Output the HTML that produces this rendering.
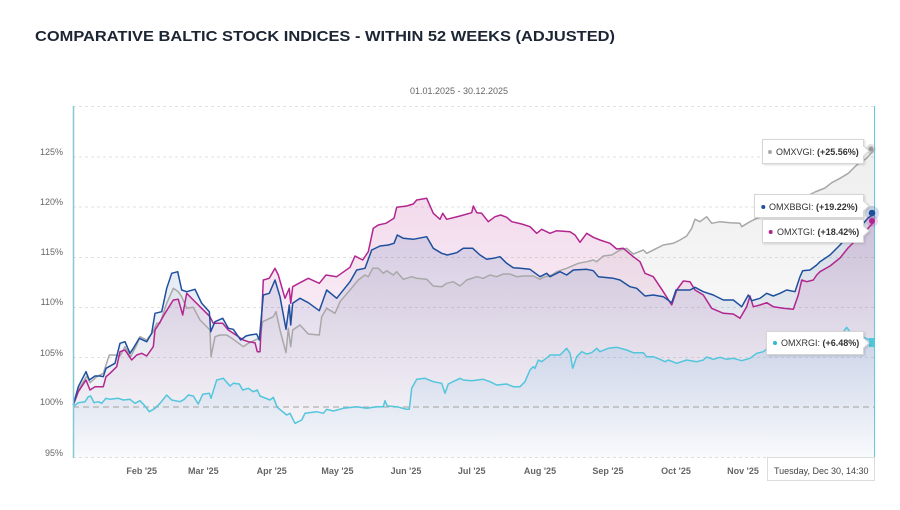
<!DOCTYPE html>
<html><head><meta charset="utf-8"><style>
html,body{margin:0;padding:0;background:#fff;}
svg{display:block;font-family:"Liberation Sans",sans-serif;}
</style></head><body>
<svg width="900" height="510" viewBox="0 0 900 510" xmlns="http://www.w3.org/2000/svg">
<defs>
<linearGradient id="gG" gradientUnits="userSpaceOnUse" x1="0" y1="106" x2="0" y2="458"><stop offset="0" stop-color="#aaaaaa" stop-opacity="0.22"/><stop offset="1" stop-color="#aaaaaa" stop-opacity="0.01"/></linearGradient>
<linearGradient id="gM" gradientUnits="userSpaceOnUse" x1="0" y1="106" x2="0" y2="458"><stop offset="0" stop-color="#b5298f" stop-opacity="0.23"/><stop offset="1" stop-color="#b5298f" stop-opacity="0.0"/></linearGradient>
<linearGradient id="gB" gradientUnits="userSpaceOnUse" x1="0" y1="106" x2="0" y2="458"><stop offset="0" stop-color="#1c4f9c" stop-opacity="0.2"/><stop offset="1" stop-color="#1c4f9c" stop-opacity="0.01"/></linearGradient>
<linearGradient id="gC" gradientUnits="userSpaceOnUse" x1="0" y1="320" x2="0" y2="458"><stop offset="0" stop-color="#50a8e0" stop-opacity="0.17"/><stop offset="1" stop-color="#50a8e0" stop-opacity="0.02"/></linearGradient>
<filter id="sh" x="-10%" y="-20%" width="130%" height="160%"><feDropShadow dx="1" dy="1" stdDeviation="1" flood-color="#000" flood-opacity="0.15"/></filter>
</defs>

<text x="35" y="41" font-size="15" font-weight="bold" fill="#1c2533" textLength="580" lengthAdjust="spacingAndGlyphs">COMPARATIVE BALTIC STOCK INDICES - WITHIN 52 WEEKS (ADJUSTED)</text>
<text x="459" y="94" font-size="9" fill="#666" text-anchor="middle">01.01.2025 - 30.12.2025</text>

<!-- grid -->
<g stroke="#e2e2e2" stroke-width="1" stroke-dasharray="3,3">
<line x1="73" y1="106.5" x2="874" y2="106.5"/>
<line x1="73" y1="157" x2="874" y2="157"/>
<line x1="73" y1="207" x2="874" y2="207"/>
<line x1="73" y1="257.5" x2="874" y2="257.5"/>
<line x1="73" y1="307.5" x2="874" y2="307.5"/>
<line x1="73" y1="357.5" x2="874" y2="357.5"/>
<line x1="73" y1="457.5" x2="874" y2="457.5"/>
</g>

<g font-size="9" fill="#666" text-anchor="end">
<text x="63" y="155">125%</text>
<text x="63" y="205">120%</text>
<text x="63" y="255">115%</text>
<text x="63" y="305">110%</text>
<text x="63" y="356">105%</text>
<text x="63" y="405">100%</text>
<text x="63" y="456">95%</text>
</g>

<g font-size="9" font-weight="bold" fill="#666" text-anchor="middle">
<text x="141.7" y="474">Feb '25</text>
<text x="203.3" y="474">Mar '25</text>
<text x="271.7" y="474">Apr '25</text>
<text x="337.5" y="474">May '25</text>
<text x="406" y="474">Jun '25</text>
<text x="471.7" y="474">Jul '25</text>
<text x="540" y="474">Aug '25</text>
<text x="608" y="474">Sep '25</text>
<text x="676" y="474">Oct '25</text>
<text x="743" y="474">Nov '25</text>
</g>

<!-- fills -->
<polygon fill="url(#gG)" points="73.3,405 78.3,390 86.7,376 90,382.7 96.7,376.7 103.3,373.3 109.3,355 115,355 120,356 125,346.7 130.7,356.7 136.7,345 140,336.7 146.7,340 153.3,331.7 156.7,323.3 160,323.3 166.7,303.3 173.3,288.3 178.3,291.7 181.7,296.7 186.7,308.3 193.3,307.3 200,320 210,330 211,356.7 215,336.7 220,335 226.7,335 233.3,339.3 243.3,346.7 248.3,343.3 256.7,339.3 260,338.3 262.7,321.7 273.3,316.7 276,311.7 280,330 286,352.7 288.3,328.3 290.7,346.7 292.7,330 300,325 308.3,334 319.3,335 321.7,316.7 326.7,308.3 335,313.3 340,301.7 350,290 358.3,280 365,275 368.3,276.7 372.7,268.3 378.3,268.3 383.3,273.3 386.7,270.7 393.3,275 396.7,271.7 403.3,279.3 411.7,276.7 416.7,278.3 426.7,279.3 433.3,286 441.7,286.7 446.7,283.3 453.3,281.7 460,286 466.7,280 476.7,276.7 483.3,278.3 490,275 496.7,276.7 503.3,274 510,274 516.7,276.7 523.3,276 533.3,276 540,279.3 543.3,277.3 551.7,275 556.7,271.7 566.7,268.3 578.3,263.3 586.7,261.7 593.3,260 596.7,261.7 603.3,256 611.7,255 620,250 626.7,248.3 633.3,254 643.3,250 646.7,253.3 656.7,248.3 663.3,245 673.3,243.3 680,240 686.7,236 691.7,228.3 695,219.3 700,221.7 706.7,216.7 711.7,223.3 720,221.7 730,222.7 740,223.3 741.7,226.7 750,221.7 756.7,218.3 765,216 775,212 785,206 795,200 805,197 815,192 825,188 831.7,182.7 840,178.3 848.3,173.3 856.7,165 866.7,158.3 874,150 874,458 73.3,458"/>
<polygon fill="url(#gM)" points="73.3,405 78.3,391.7 86,380 90,390 95,386.7 103.3,386.7 106,376.7 110,373.3 116.7,366.7 120,351.7 125,350 131.7,360 136.7,355 141.7,353.3 146.7,356 153.3,346.7 155,330 159.3,323.3 165,313.3 173.3,300 178.3,299.3 182.7,315 186.7,293.3 193.3,300 200,306.7 210,316.7 213.3,323.3 222.7,323.3 228.3,330 233.3,333.3 243.3,340 248.3,341.7 255,342.7 257.3,351.7 260,351.7 263.3,280 269.3,278.3 275,268.3 278.3,275 285,298.3 289.3,288.3 290.7,303.3 292.7,286.7 300,282.7 308.3,278.3 319.3,283.3 326,275 336.7,276.7 350,267.3 355,256 362.7,260 368.3,251.7 373.3,228.3 378.3,225 386,223.3 394,218.3 396.7,207.3 406.7,206 413.3,204 416.7,200 426.7,198.3 433.3,213.3 440,219.3 442.7,213.3 446.7,219.3 460,216 471.7,212.7 473.3,206 476.7,212.7 481.7,213.3 488.3,221.7 495,216.7 500.7,215 506.7,217.3 511.7,221.7 521.7,224 530,226.7 536.7,233.3 541.7,229.3 550,233.3 556.7,230.7 570,231.7 575,235 580,242.3 586.7,233.3 593.3,237.3 600,240 610,243.3 616.7,249 623.3,248.3 633.3,256.7 640,261.7 645,273.3 653.3,276.7 663.3,291.7 671.7,305 676.7,290 683.3,281 690,281.7 695,290 703.3,295 711.7,308.3 723.3,313.3 733.3,314 740,318.3 746.7,306.7 750,296 753.3,306.7 760,305 766.7,302.7 773.3,306.7 783.3,308.3 793.3,309.3 798.3,295 801.7,280 806.7,281.7 813.3,280 816.7,275 820,271.7 830,266 840,258 848,248 856,240 864,233 870,226 874,222 874,458 73.3,458"/>
<polygon fill="url(#gB)" points="73.3,405 78.3,386.7 86,371.7 89.3,380 95,376 100,376 103.3,376.7 106,368.3 115,363.3 120,343.3 125,341.7 130,353.3 133.3,348.3 139.3,338.3 146.7,341.7 151.7,333.3 155,313.3 161.7,311.7 166.7,288.3 171.7,273.3 177.7,271.7 181.7,290 186.7,291.7 195,289.3 201.7,303.3 209.3,311.7 210.7,331.7 215,321.7 222.7,318.3 228.3,328.3 233.3,329.3 240.7,340 246,336 250,335 256.7,334 259.3,340 263.3,295 269.3,293.3 275,280 280,296.7 286,329.3 289.3,305 290.7,325 292.7,303.3 300,298.3 308.3,302.7 319.3,310.7 326.7,290 336.7,298.3 350,281.7 356.7,270 365,268.3 371.7,250 380,246 388.3,245 394,243.3 397.3,235 403.3,238.3 413.3,239.3 426.7,236.7 433.3,248.3 441.7,253.3 447.3,255 456.7,252.7 463.3,248.3 472.7,248.3 480,255 486.7,259.3 493.3,258.3 500,256.7 506.7,263.3 513.3,267.7 520,268.3 530,269.3 540,276.7 546.7,273.3 550,276.7 560,271.7 566.7,275 573.3,270 586.7,269.3 593.3,270.7 598.3,276.7 613.3,278.3 620,280 630,286.7 636.7,288.3 645,296 653.3,295 663.3,296.7 671.7,302.7 676,290 690,290 695,287.3 703.3,291.7 713.3,295 723.3,300 733.3,300 741.7,306.7 748.3,295 751.7,300.7 760,298.3 766.7,293.3 773.3,296 780,293.3 786.7,290 795,291.7 800,276.7 802.7,270.7 810,270 816.7,265 820,261.7 830,255 840,245 848,236 856,228 862,225 868,218 874,214 874,458 73.3,458"/>
<polygon fill="url(#gC)" points="73.3,406.7 78.3,402.7 85,401.7 88.3,396.7 90.7,396 94,402.7 98.3,401.7 101.7,403.3 106,398.3 110,399.3 118.3,398.3 123.3,400 130,399.3 135,403.3 140,400.7 145,406 149.3,411.7 155,408.3 160,403.3 166.7,395 171.7,400 180,401.7 184.3,399.3 188.3,395 193.3,396 198.3,404 202.7,394.3 209.3,393.3 211,398.3 216.7,380 223.3,378.3 230,386 233.3,383.3 239.3,384 242.7,390 248.3,388.3 253.3,391.7 257.3,390 260,396 270,400 273.3,397.3 277.3,407.3 286.7,415 290,413.3 295,423.3 301.7,420 305,413.3 316.7,411.7 323.3,413.3 326.7,409.3 333.3,411 343.3,408.3 356.7,406.7 366.7,408.3 376.7,406.7 383.3,406.7 385,400.7 387.3,406 396.7,406.7 406.7,409.3 409.3,409.3 411.7,388.3 416.7,379.3 425,378.3 433.3,381.7 441.7,383.3 445,393.3 448.3,384 460,378.3 463.3,380 471.7,380.7 483.3,379.3 490,381.7 496.7,385 506.7,384 513.3,386.7 520,386.7 525,381.7 530,370 533.3,366.7 535,368.3 538.3,360 541.7,361.7 548.3,356.7 550,355 560,355 566.7,348.3 570,353.3 572.7,368.3 576.7,356.7 581.7,351.7 586.7,354 591.7,352.7 596.7,348.3 600,351.7 608.3,348.3 616.7,347.3 626.7,350 633.3,352.7 643.3,352.7 646.7,356.7 653.3,356.7 660,359.3 665,361.7 668.3,360 676.7,363.3 686.7,360 696.7,361.7 703.3,360 706.7,357 713.3,359.3 720,357.3 726.7,359.3 733.3,358.3 741.7,360.7 750,358.3 756.7,353.3 763.3,351.7 766.7,349 780,347 795,345 810,341 825,336 835,334 843.3,331.7 846.7,327.3 850,331.7 856.7,333.3 863.3,337.3 870,340 874,342 874,458 73.3,458"/>

<!-- 100% plot line -->
<line x1="73" y1="407" x2="874" y2="407" stroke="#b0b0b0" stroke-width="1.2" stroke-dasharray="6,4"/>

<!-- lines -->
<g fill="none" stroke-width="1.5" stroke-linejoin="round">
<polyline stroke="#a8a8a8" points="73.3,405 78.3,390 86.7,376 90,382.7 96.7,376.7 103.3,373.3 109.3,355 115,355 120,356 125,346.7 130.7,356.7 136.7,345 140,336.7 146.7,340 153.3,331.7 156.7,323.3 160,323.3 166.7,303.3 173.3,288.3 178.3,291.7 181.7,296.7 186.7,308.3 193.3,307.3 200,320 210,330 211,356.7 215,336.7 220,335 226.7,335 233.3,339.3 243.3,346.7 248.3,343.3 256.7,339.3 260,338.3 262.7,321.7 273.3,316.7 276,311.7 280,330 286,352.7 288.3,328.3 290.7,346.7 292.7,330 300,325 308.3,334 319.3,335 321.7,316.7 326.7,308.3 335,313.3 340,301.7 350,290 358.3,280 365,275 368.3,276.7 372.7,268.3 378.3,268.3 383.3,273.3 386.7,270.7 393.3,275 396.7,271.7 403.3,279.3 411.7,276.7 416.7,278.3 426.7,279.3 433.3,286 441.7,286.7 446.7,283.3 453.3,281.7 460,286 466.7,280 476.7,276.7 483.3,278.3 490,275 496.7,276.7 503.3,274 510,274 516.7,276.7 523.3,276 533.3,276 540,279.3 543.3,277.3 551.7,275 556.7,271.7 566.7,268.3 578.3,263.3 586.7,261.7 593.3,260 596.7,261.7 603.3,256 611.7,255 620,250 626.7,248.3 633.3,254 643.3,250 646.7,253.3 656.7,248.3 663.3,245 673.3,243.3 680,240 686.7,236 691.7,228.3 695,219.3 700,221.7 706.7,216.7 711.7,223.3 720,221.7 730,222.7 740,223.3 741.7,226.7 750,221.7 756.7,218.3 765,216 775,212 785,206 795,200 805,197 815,192 825,188 831.7,182.7 840,178.3 848.3,173.3 856.7,165 866.7,158.3 874,150"/>
<polyline stroke="#b2268f" points="73.3,405 78.3,391.7 86,380 90,390 95,386.7 103.3,386.7 106,376.7 110,373.3 116.7,366.7 120,351.7 125,350 131.7,360 136.7,355 141.7,353.3 146.7,356 153.3,346.7 155,330 159.3,323.3 165,313.3 173.3,300 178.3,299.3 182.7,315 186.7,293.3 193.3,300 200,306.7 210,316.7 213.3,323.3 222.7,323.3 228.3,330 233.3,333.3 243.3,340 248.3,341.7 255,342.7 257.3,351.7 260,351.7 263.3,280 269.3,278.3 275,268.3 278.3,275 285,298.3 289.3,288.3 290.7,303.3 292.7,286.7 300,282.7 308.3,278.3 319.3,283.3 326,275 336.7,276.7 350,267.3 355,256 362.7,260 368.3,251.7 373.3,228.3 378.3,225 386,223.3 394,218.3 396.7,207.3 406.7,206 413.3,204 416.7,200 426.7,198.3 433.3,213.3 440,219.3 442.7,213.3 446.7,219.3 460,216 471.7,212.7 473.3,206 476.7,212.7 481.7,213.3 488.3,221.7 495,216.7 500.7,215 506.7,217.3 511.7,221.7 521.7,224 530,226.7 536.7,233.3 541.7,229.3 550,233.3 556.7,230.7 570,231.7 575,235 580,242.3 586.7,233.3 593.3,237.3 600,240 610,243.3 616.7,249 623.3,248.3 633.3,256.7 640,261.7 645,273.3 653.3,276.7 663.3,291.7 671.7,305 676.7,290 683.3,281 690,281.7 695,290 703.3,295 711.7,308.3 723.3,313.3 733.3,314 740,318.3 746.7,306.7 750,296 753.3,306.7 760,305 766.7,302.7 773.3,306.7 783.3,308.3 793.3,309.3 798.3,295 801.7,280 806.7,281.7 813.3,280 816.7,275 820,271.7 830,266 840,258 848,248 856,240 864,233 870,226 874,222"/>
<polyline stroke="#1e4f9e" points="73.3,405 78.3,386.7 86,371.7 89.3,380 95,376 100,376 103.3,376.7 106,368.3 115,363.3 120,343.3 125,341.7 130,353.3 133.3,348.3 139.3,338.3 146.7,341.7 151.7,333.3 155,313.3 161.7,311.7 166.7,288.3 171.7,273.3 177.7,271.7 181.7,290 186.7,291.7 195,289.3 201.7,303.3 209.3,311.7 210.7,331.7 215,321.7 222.7,318.3 228.3,328.3 233.3,329.3 240.7,340 246,336 250,335 256.7,334 259.3,340 263.3,295 269.3,293.3 275,280 280,296.7 286,329.3 289.3,305 290.7,325 292.7,303.3 300,298.3 308.3,302.7 319.3,310.7 326.7,290 336.7,298.3 350,281.7 356.7,270 365,268.3 371.7,250 380,246 388.3,245 394,243.3 397.3,235 403.3,238.3 413.3,239.3 426.7,236.7 433.3,248.3 441.7,253.3 447.3,255 456.7,252.7 463.3,248.3 472.7,248.3 480,255 486.7,259.3 493.3,258.3 500,256.7 506.7,263.3 513.3,267.7 520,268.3 530,269.3 540,276.7 546.7,273.3 550,276.7 560,271.7 566.7,275 573.3,270 586.7,269.3 593.3,270.7 598.3,276.7 613.3,278.3 620,280 630,286.7 636.7,288.3 645,296 653.3,295 663.3,296.7 671.7,302.7 676,290 690,290 695,287.3 703.3,291.7 713.3,295 723.3,300 733.3,300 741.7,306.7 748.3,295 751.7,300.7 760,298.3 766.7,293.3 773.3,296 780,293.3 786.7,290 795,291.7 800,276.7 802.7,270.7 810,270 816.7,265 820,261.7 830,255 840,245 848,236 856,228 862,225 868,218 874,214"/>
<polyline stroke="#52c6dc" points="73.3,406.7 78.3,402.7 85,401.7 88.3,396.7 90.7,396 94,402.7 98.3,401.7 101.7,403.3 106,398.3 110,399.3 118.3,398.3 123.3,400 130,399.3 135,403.3 140,400.7 145,406 149.3,411.7 155,408.3 160,403.3 166.7,395 171.7,400 180,401.7 184.3,399.3 188.3,395 193.3,396 198.3,404 202.7,394.3 209.3,393.3 211,398.3 216.7,380 223.3,378.3 230,386 233.3,383.3 239.3,384 242.7,390 248.3,388.3 253.3,391.7 257.3,390 260,396 270,400 273.3,397.3 277.3,407.3 286.7,415 290,413.3 295,423.3 301.7,420 305,413.3 316.7,411.7 323.3,413.3 326.7,409.3 333.3,411 343.3,408.3 356.7,406.7 366.7,408.3 376.7,406.7 383.3,406.7 385,400.7 387.3,406 396.7,406.7 406.7,409.3 409.3,409.3 411.7,388.3 416.7,379.3 425,378.3 433.3,381.7 441.7,383.3 445,393.3 448.3,384 460,378.3 463.3,380 471.7,380.7 483.3,379.3 490,381.7 496.7,385 506.7,384 513.3,386.7 520,386.7 525,381.7 530,370 533.3,366.7 535,368.3 538.3,360 541.7,361.7 548.3,356.7 550,355 560,355 566.7,348.3 570,353.3 572.7,368.3 576.7,356.7 581.7,351.7 586.7,354 591.7,352.7 596.7,348.3 600,351.7 608.3,348.3 616.7,347.3 626.7,350 633.3,352.7 643.3,352.7 646.7,356.7 653.3,356.7 660,359.3 665,361.7 668.3,360 676.7,363.3 686.7,360 696.7,361.7 703.3,360 706.7,357 713.3,359.3 720,357.3 726.7,359.3 733.3,358.3 741.7,360.7 750,358.3 756.7,353.3 763.3,351.7 766.7,349 780,347 795,345 810,341 825,336 835,334 843.3,331.7 846.7,327.3 850,331.7 856.7,333.3 863.3,337.3 870,340 874,342"/>
</g>

<!-- axis lines -->
<line x1="73.5" y1="106" x2="73.5" y2="458" stroke="#86c8d6" stroke-width="1.5"/>
<line x1="874.5" y1="106" x2="874.5" y2="458" stroke="#5fcde0" stroke-width="1"/>

<!-- markers -->
<circle cx="871" cy="149" r="5" fill="#aaa" fill-opacity="0.35"/>
<circle cx="871" cy="149" r="2.5" fill="#999"/>
<circle cx="872" cy="213" r="7" fill="#1e4f9e" fill-opacity="0.2"/>
<circle cx="872" cy="213" r="3.3" fill="#1e4f9e"/>
<circle cx="872" cy="221" r="6" fill="#b2268f" fill-opacity="0.2"/>
<circle cx="872" cy="221" r="3" fill="#b2268f"/>
<rect x="869" y="338" width="6" height="9" fill="#4fc8dc"/>

<!-- tooltips -->
<g filter="url(#sh)" fill="#fff" stroke="#d6d6d6" stroke-width="1">
<path d="M762.5,139.5 H863.5 V146 L869,151 L863.5,156 V163.5 H762.5 Z"/>
<path d="M754.5,194.5 H863.5 V201 L869,206 L863.5,211 V217.5 H754.5 Z"/>
<path d="M762.5,219.5 H863.5 V226 L869,231 L863.5,236 V242.5 H762.5 Z"/>
<path d="M766.5,331.5 H863.5 V338 L869,343 L863.5,348 V354.5 H766.5 Z"/>
</g>
<g font-size="9" fill="#333">
<circle cx="770" cy="152" r="2" fill="#aaa"/>
<text x="776" y="155">OMXVGI: <tspan font-weight="bold">(+25.56%)</tspan></text>
<circle cx="763.3" cy="207" r="2" fill="#1e4f9e"/>
<text x="769" y="210">OMXBBGI: <tspan font-weight="bold">(+19.22%)</tspan></text>
<circle cx="770.7" cy="232" r="2" fill="#b2268f"/>
<text x="777" y="235">OMXTGI: <tspan font-weight="bold">(+18.42%)</tspan></text>
<circle cx="775" cy="343" r="2" fill="#2fb8d8"/>
<text x="781" y="346">OMXRGI: <tspan font-weight="bold">(+6.48%)</tspan></text>
</g>

<!-- date label -->
<rect x="767.5" y="457.5" width="107" height="23" fill="#fff" stroke="#dcdcdc" stroke-width="1"/>
<text x="774" y="474" font-size="9" fill="#444">Tuesday, Dec 30, 14:30</text>
</svg>
</body></html>
